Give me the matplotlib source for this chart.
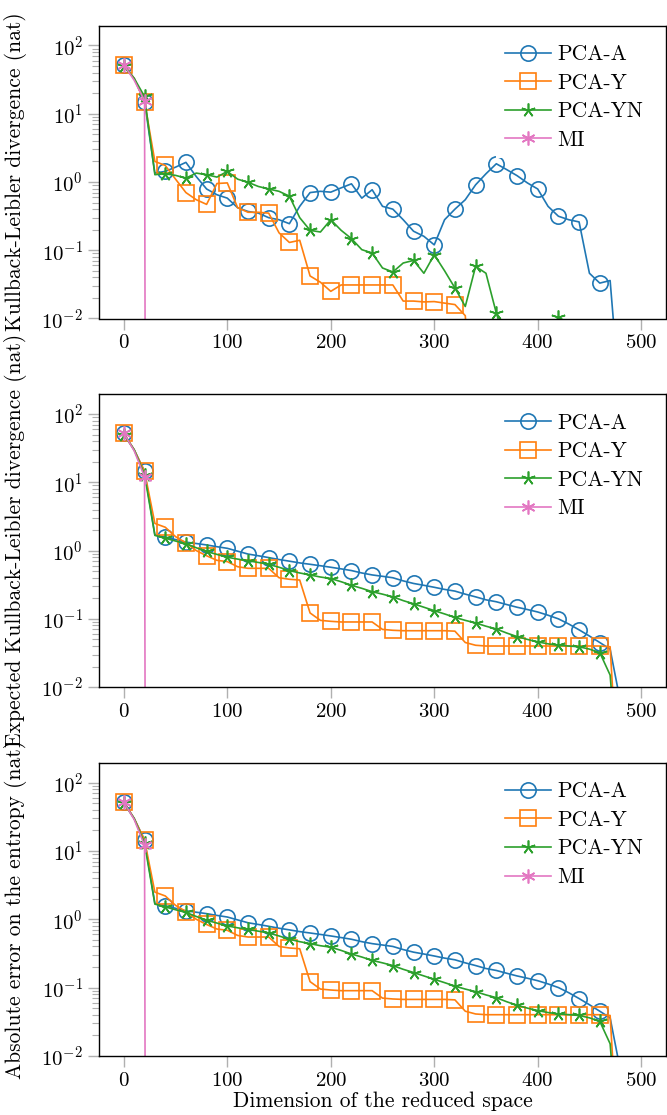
import matplotlib
matplotlib.use("Agg")
import matplotlib.pyplot as plt
from matplotlib.ticker import LogLocator, NullFormatter, NullLocator

plt.rcParams['font.family'] = 'serif'
plt.rcParams['font.serif'] = ['cmr10', 'DejaVu Serif']
plt.rcParams['mathtext.fontset'] = 'cm'
plt.rcParams['axes.formatter.use_mathtext'] = True

# dimension of the reduced space (data every 10, marks every 20)
dims = [0, 10, 20, 30, 40, 50, 60, 70, 80, 90, 100, 110, 120, 130, 140, 150, 160,
        170, 180, 190, 200, 210, 220, 230, 240, 250, 260, 270, 280, 290, 300, 310,
        320, 330, 340, 350, 360, 370, 380, 390, 400, 410, 420, 430, 440, 450, 460,
        470, 480]
mi_dims = [0, 10, 20, 21]

# panel 1: Kullback-Leibler divergence
kl_pca_a = [52, 33, 15.1, 1.35, 1.43, 1.65, 1.94, 1.2, 0.79, 0.65, 0.58, 0.42, 0.37,
            0.35, 0.30, 0.28, 0.245, 0.44, 0.70, 0.73, 0.71, 0.82, 0.94, 0.58, 0.77,
            0.44, 0.40, 0.28, 0.19, 0.16, 0.12, 0.28, 0.40, 0.55, 0.91, 1.32, 1.85,
            1.52, 1.24, 0.97, 0.79, 0.44, 0.315, 0.28, 0.26, 0.046, 0.033, 0.036, 0.0005]
kl_pca_y = [52, 33, 15.1, 2.0, 1.75, 1.1, 0.70, 0.55, 0.47, 0.95, 0.97, 0.42, 0.36,
            0.36, 0.35, 0.18, 0.13, 0.14, 0.042, 0.034, 0.025, 0.031, 0.031, 0.031,
            0.031, 0.031, 0.031, 0.018, 0.018, 0.0175, 0.0177, 0.0168, 0.016, 0.011,
            0.0001]
kl_pca_yn = [50, 33, 17.9, 1.28, 1.32, 1.25, 1.14, 1.35, 1.28, 1.18, 1.43, 1.1, 0.99,
             0.86, 0.79, 0.73, 0.62, 0.30, 0.196, 0.185, 0.28, 0.196, 0.148, 0.102,
             0.091, 0.055, 0.048, 0.065, 0.071, 0.046, 0.086, 0.05, 0.028, 0.015,
             0.058, 0.046, 0.012, 0.004, 0.002, 0.002, 0.002, 0.003, 0.0105, 0.0085,
             0.003, 0.002, 0.002, 0.001, 0.0005]
kl_mi = [52, 31, 15.5, 1e-5]

# panel 2: expected Kullback-Leibler divergence
ekl_pca_a = [52, 30, 14.5, 1.7, 1.58, 1.45, 1.33, 1.27, 1.21, 1.14, 1.08, 0.98, 0.89,
             0.84, 0.79, 0.74, 0.70, 0.66, 0.63, 0.60, 0.57, 0.54, 0.51, 0.47, 0.44,
             0.42, 0.40, 0.36, 0.33, 0.31, 0.29, 0.27, 0.255, 0.23, 0.21, 0.19, 0.178,
             0.162, 0.148, 0.137, 0.126, 0.113, 0.10, 0.084, 0.069, 0.056, 0.045,
             0.036, 0.006]
ekl_pca_y = [52, 30, 14.5, 2.5, 2.2, 1.6, 1.30, 1.0, 0.84, 0.72, 0.69, 0.58, 0.55,
             0.55, 0.55, 0.40, 0.38, 0.37, 0.122, 0.095, 0.092, 0.09, 0.09, 0.09,
             0.09, 0.07, 0.068, 0.067, 0.067, 0.067, 0.067, 0.067, 0.066, 0.045,
             0.041, 0.040, 0.040, 0.040, 0.040, 0.040, 0.040, 0.040, 0.040, 0.040,
             0.040, 0.040, 0.040, 0.039, 0.0001]
ekl_pca_yn = [50, 30, 13, 1.67, 1.52, 1.38, 1.26, 1.1, 0.97, 0.88, 0.80, 0.75, 0.71,
              0.67, 0.63, 0.57, 0.51, 0.47, 0.44, 0.41, 0.39, 0.35, 0.31, 0.28, 0.25,
              0.23, 0.21, 0.185, 0.166, 0.148, 0.132, 0.118, 0.105, 0.095, 0.087,
              0.078, 0.071, 0.062, 0.055, 0.05, 0.046, 0.043, 0.041, 0.040, 0.039,
              0.036, 0.032, 0.015, 0.0002]
ekl_mi = [52, 29, 12.1, 1e-5]

# panel 3: absolute error on the entropy (same curves as panel 2 in the figure)
ent_pca_a = list(ekl_pca_a)
ent_pca_y = list(ekl_pca_y)
ent_pca_yn = list(ekl_pca_yn)
ent_mi = list(ekl_mi)

labels = ["PCA-A", "PCA-Y", "PCA-YN", "MI"]
colors = ["#1f77b4", "#ff7f0e", "#2ca02c", "#e377c2"]
markers = ["o", "s", (5, 2, 0), (6, 2, 0)]
sizes = [11, 11, 10, 10]

panels = [
    ("Kullback-Leibler divergence (nat)", [kl_pca_a, kl_pca_y, kl_pca_yn, kl_mi]),
    ("Expected Kullback-Leibler divergence (nat)", [ekl_pca_a, ekl_pca_y, ekl_pca_yn, ekl_mi]),
    ("Absolute error on the entropy (nat)", [ent_pca_a, ent_pca_y, ent_pca_yn, ent_mi]),
]

fig = plt.figure(figsize=(6.67, 11.15), dpi=100)
W, H = 667.0, 1115.0
tops = [25.7, 394.3, 763.0]
ax_h = 292.8

for i, (ylabel, series) in enumerate(panels):
    ax = fig.add_axes([99 / W, 1 - (tops[i] + ax_h) / H, 567 / W, ax_h / H])
    for j, vals in enumerate(series):
        if labels[j] == "MI":
            xs = mi_dims
            every = [0, 2]
        else:
            xs = dims[:len(vals)]
            every = 2
        ax.plot(xs, vals, color=colors[j], marker=markers[j], markevery=every,
                ms=sizes[j], mfc='none', mec=colors[j], mew=1.2, lw=1.2,
                label=labels[j])
    ax.set_yscale('log')
    ax.set_ylim(1e-2, 10 ** 2.29)
    ax.set_xlim(-24, 524)
    ax.set_xticks([0, 100, 200, 300, 400, 500])
    ax.xaxis.set_minor_locator(NullLocator())
    ax.yaxis.set_major_locator(LogLocator(base=10))
    ax.yaxis.set_minor_locator(LogLocator(base=10, subs=range(2, 10)))
    ax.yaxis.set_minor_formatter(NullFormatter())
    ax.tick_params(which='major', length=8, width=1, color='#b0b0b0',
                   labelsize=15, pad=3.5)
    ax.tick_params(which='minor', length=4.8, width=0.8, color='#b0b0b0')
    for sp in ax.spines.values():
        sp.set_linewidth(1.0)
    ax.set_ylabel(ylabel, fontsize=15.5)
    ax.yaxis.set_label_coords(-0.127, 0.5)
    # legend sits on a white box without a frame, covering what is under it
    ax.legend(loc='upper right', bbox_to_anchor=(0.975, 0.965), fontsize=15.5,
              frameon=True, fancybox=False, edgecolor='none', facecolor='white',
              framealpha=1, handlelength=2.15, handletextpad=0.3,
              labelspacing=0.42, borderpad=0.4, borderaxespad=0, numpoints=1)
    if i == 2:
        ax.set_xlabel("Dimension of the reduced space", fontsize=15.5, labelpad=1)

fig.savefig("out.png", dpi=100)
